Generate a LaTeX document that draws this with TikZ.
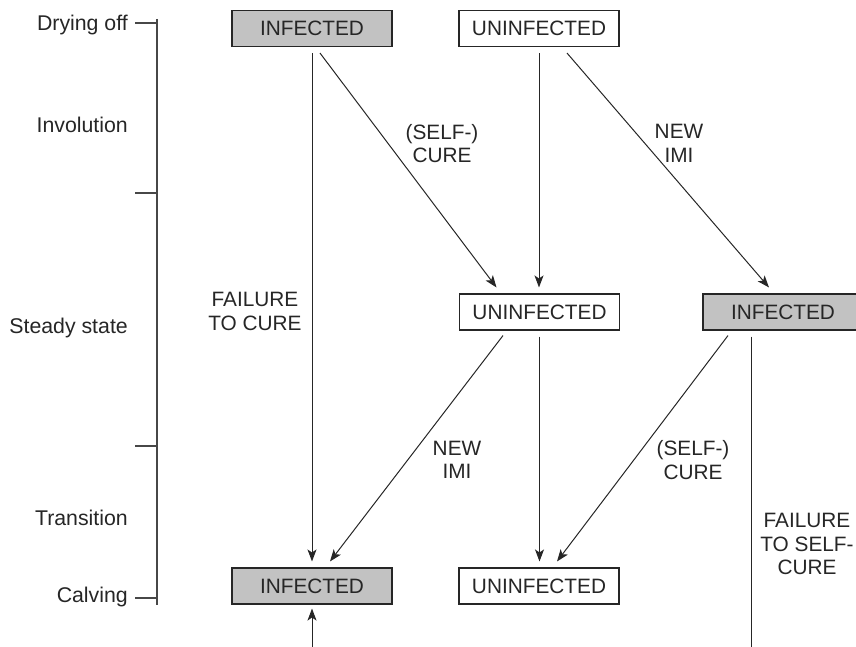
\documentclass[tikz,border=0pt]{standalone}
\usepackage{fontspec}
\setmainfont{Liberation Sans}
\usetikzlibrary{arrows.meta,calc}
\definecolor{boxgray}{HTML}{C2C2C2}
\definecolor{ink}{HTML}{262626}
\begin{document}
\begin{tikzpicture}[x=1pt,y=-1pt,
  every node/.style={text=ink},
  statebox/.style={draw=ink,line width=1.1pt,minimum width=160pt,minimum height=36pt,inner sep=0pt,
    font=\fontsize{20.8}{23.5}\selectfont},
  infbox/.style={statebox,fill=boxgray},
  unbox/.style={statebox,fill=white},
  lbl/.style={align=center,inner sep=0pt,font=\fontsize{20.8}{23.5}\selectfont},
  phase/.style={anchor=east,inner sep=0pt,font=\fontsize{21.3}{24}\selectfont},
  conn/.style={draw=ink,line width=1pt},
  arr/.style={conn,-{Stealth[length=12pt,width=9pt,inset=3pt]}},
  tl/.style={draw=ink!85,line width=1.1pt}]
\useasboundingbox (0,0) rectangle (856,647);

% timeline
\node[phase] (pdry) at (128,25) {Drying off};
\node[phase] (pinv) at (128,125) {Involution};
\node[phase] (pste) at (128,328) {Steady state};
\node[phase] (ptra) at (128,518) {Transition};
\node[phase] (pcal) at (128,597) {Calving};
\coordinate (ttop) at (157,19);
\coordinate (tbot) at (157,605);
\draw[tl] (ttop) -- (tbot);
\coordinate (t1) at (135,23);
\coordinate (t2) at (135,193);
\coordinate (t3) at (135,446);
\coordinate (t4) at (135,598);
\draw[tl] (t1) -- (t1 -| ttop);
\draw[tl] (t2) -- (t2 -| ttop);
\draw[tl] (t3) -- (t3 -| ttop);
\draw[tl] (t4) -- (t4 -| ttop);

% state boxes
\node[infbox] (inf1) at (312,28.5) {INFECTED};
\node[unbox]  (un1)  at (539,28.5) {UNINFECTED};
\node[unbox]  (un2)  at (539.5,312) {UNINFECTED};
\node[infbox] (inf2) at (783,312) {INFECTED};
\node[infbox] (inf3) at (312,586) {INFECTED};
\node[unbox]  (un3)  at (539,586) {UNINFECTED};

% connectors
\draw[arr,shorten <=6pt,shorten >=6pt] (inf1.south) -- (inf3.north);
\draw[arr] ($(inf1.south)+(8,6)$) -- ($(un2.north)+(-43,-6)$);
\draw[arr,shorten <=6pt,shorten >=6pt] (un1.south) -- (un1.south |- un2.north);
\draw[arr] ($(un1.south)+(28,6)$) -- ($(inf2.north)+(-14,-6)$);
\draw[arr] ($(un2.south)+(-36.5,5)$) -- ($(inf3.north)+(18,-6)$);
\draw[arr,shorten <=6pt,shorten >=6pt] (un2.south) -- (un2.south |- un3.north);
\draw[arr] ($(inf2.south)+(-55,5)$) -- ($(un3.north)+(18,-6)$);
\coordinate (rbot) at (751,647);
\draw[conn] ($(inf2.south)+(-32,6)$) -- (rbot);
\coordinate (lbot) at (312,647);
\draw[arr] (lbot) -- ($(inf3.south)+(0,4)$);

% labels
\node[lbl] (l1) at (442,143.5) {(SELF-)\\CURE};
\node[lbl] (l2) at (679,143.5) {NEW\\IMI};
\node[lbl] (l3) at (255,311.5) {FAILURE\\TO CURE};
\node[lbl] (l4) at (457,460) {NEW\\IMI};
\node[lbl] (l5) at (693,460) {(SELF-)\\CURE};
\node[lbl] (l6) at (807,544) {FAILURE\\TO SELF-\\CURE};
\end{tikzpicture}
\end{document}
